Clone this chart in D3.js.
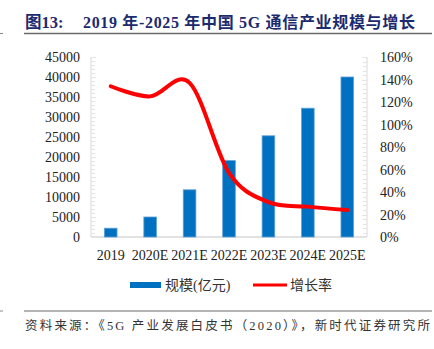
<!DOCTYPE html>
<html>
<head>
<meta charset="utf-8">
<script src="https://cdn.jsdelivr.net/npm/d3@7"></script>
<style>
  html, body { margin: 0; padding: 0; background: #fff; }
  svg { display: block; }
</style>
</head>
<body>
<svg id="chart" width="434" height="349"></svg>
<script>
// 5G 产业规模（亿元）与增长率
const years = ['2019', '2020E', '2021E', '2022E', '2023E', '2024E', '2025E'];
const scale = [2200, 5000, 11800, 19100, 25300, 32200, 40000];
const growth = [1.34, 1.25, 1.37, 0.57, 0.31, 0.27, 0.24];
const leftTicks = [0, 5000, 10000, 15000, 20000, 25000, 30000, 35000, 40000, 45000];
const rightTicks = [0, 0.2, 0.4, 0.6, 0.8, 1.0, 1.2, 1.4, 1.6];

const serif = '"Times New Roman", "Liberation Serif", "Noto Sans CJK SC", serif';
const cjk = '"Liberation Serif", "Noto Sans CJK SC", sans-serif';

const svg = d3.select('#chart');
const plot = { left: 91, right: 367, top: 57, bottom: 237 };

const x = d3.scaleBand().domain(years).range([plot.left, plot.right]).paddingInner(0.68).paddingOuter(0.34);
const yL = d3.scaleLinear().domain([0, 45000]).range([plot.bottom, plot.top]);
const yR = d3.scaleLinear().domain([0, 1.6]).range([plot.bottom, plot.top]);

// title + rules
svg.append('text')
  .attr('x', 25).attr('y', 28)
  .attr('fill', '#1c2a6e')
  .style('font-family', serif).style('font-weight', 'bold').style('font-size', '16.5px')
  .text('图13:');
svg.append('text')
  .attr('x', 83).attr('y', 28)
  .attr('fill', '#1c2a6e')
  .attr('textLength', 332).attr('lengthAdjust', 'spacing')
  .style('font-family', serif).style('font-weight', 'bold').style('font-size', '16px')
  .text('2019 年-2025 年中国 5G 通信产业规模与增长');
svg.append('line').attr('x1', 24).attr('x2', 432).attr('y1', 33.5).attr('y2', 33.5)
  .attr('stroke', '#6b6b6b').attr('stroke-width', 1.5);
svg.append('line').attr('x1', 24).attr('x2', 432).attr('y1', 311).attr('y2', 311)
  .attr('stroke', '#6b6b6b').attr('stroke-width', 1);
// stubs at the page edge
svg.append('line').attr('x1', 0).attr('x2', 3).attr('y1', 33.5).attr('y2', 33.5)
  .attr('stroke', '#888').attr('stroke-width', 1);
svg.append('line').attr('x1', 0).attr('x2', 3).attr('y1', 311).attr('y2', 311)
  .attr('stroke', '#888').attr('stroke-width', 1);

// axis lines and inside ticks (5 minor steps per major)
const axisColor = '#d9d9d9';
svg.append('line').attr('x1', plot.left).attr('x2', plot.left).attr('y1', plot.top).attr('y2', plot.bottom)
  .attr('stroke', axisColor);
svg.append('line').attr('x1', plot.right).attr('x2', plot.right).attr('y1', plot.top).attr('y2', plot.bottom)
  .attr('stroke', axisColor);
svg.append('line').attr('x1', plot.left).attr('x2', plot.right).attr('y1', plot.bottom).attr('y2', plot.bottom)
  .attr('stroke', axisColor).attr('stroke-width', 1.5);

const minorL = d3.range(0, 45001, 1000);
svg.append('g').selectAll('line').data(minorL).join('line')
  .attr('x1', plot.left).attr('x2', d => plot.left + (d % 5000 === 0 ? 5 : 4))
  .attr('y1', d => Math.round(yL(d)) + 0.5).attr('y2', d => Math.round(yL(d)) + 0.5)
  .attr('stroke', '#e4e4e4');
const minorR = d3.range(0, 41).map(i => i * 0.04);
svg.append('g').selectAll('line').data(minorR).join('line')
  .attr('x1', plot.right).attr('x2', (d, i) => plot.right - (i % 5 === 0 ? 5 : 4))
  .attr('y1', d => Math.round(yR(d)) + 0.5).attr('y2', d => Math.round(yR(d)) + 0.5)
  .attr('stroke', '#e4e4e4');

// tick labels
svg.append('g').selectAll('text').data(leftTicks).join('text')
  .attr('x', 80).attr('y', d => yL(d) + 5)
  .attr('text-anchor', 'end')
  .style('font-family', serif).style('font-size', '14px').attr('fill', '#222')
  .text(d => d);
svg.append('g').selectAll('text').data(rightTicks).join('text')
  .attr('x', 380).attr('y', d => yR(d) + 5)
  .style('font-family', serif).style('font-size', '14px').attr('fill', '#222')
  .text(d => d3.format('.0%')(d));
svg.append('g').selectAll('text').data(years).join('text')
  .attr('x', d => x(d) + x.bandwidth() / 2).attr('y', 260)
  .attr('text-anchor', 'middle')
  .style('font-family', serif).style('font-size', '14px').attr('fill', '#222')
  .text(d => d);

// bars
svg.append('g').selectAll('rect').data(scale).join('rect')
  .attr('x', (d, i) => x(years[i]))
  .attr('y', d => yL(d))
  .attr('width', x.bandwidth())
  .attr('height', d => plot.bottom - yL(d))
  .attr('fill', '#0070c0')
  .attr('stroke', '#5fa0d8').attr('stroke-width', 0.8);

// smoothed growth line
const line = d3.line()
  .x((d, i) => x(years[i]) + x.bandwidth() / 2)
  .y(d => yR(d))
  .curve(d3.curveCardinal.tension(0));
svg.append('path').datum(growth)
  .attr('d', line)
  .attr('fill', 'none')
  .attr('stroke', '#ff0000').attr('stroke-width', 4)
  .attr('stroke-linecap', 'round').attr('stroke-linejoin', 'round');

// legend
const lg = svg.append('g');
lg.append('rect').attr('x', 130).attr('y', 282).attr('width', 31).attr('height', 6).attr('fill', '#0070c0');
lg.append('text').attr('x', 165).attr('y', 290)
  .style('font-family', cjk).style('font-size', '14px').attr('fill', '#333')
  .text('规模(亿元)');
lg.append('line').attr('x1', 253).attr('x2', 287).attr('y1', 285).attr('y2', 285)
  .attr('stroke', '#ff0000').attr('stroke-width', 3);
lg.append('text').attr('x', 290).attr('y', 290)
  .style('font-family', cjk).style('font-size', '14px').attr('fill', '#333')
  .text('增长率');

// source
svg.append('text')
  .attr('x', 25).attr('y', 330)
  .attr('textLength', 405).attr('lengthAdjust', 'spacing')
  .style('font-family', cjk).style('font-size', '12.5px').attr('fill', '#333')
  .text('资料来源：《5G 产业发展白皮书（2020）》，新时代证券研究所');
</script>
</body>
</html>
